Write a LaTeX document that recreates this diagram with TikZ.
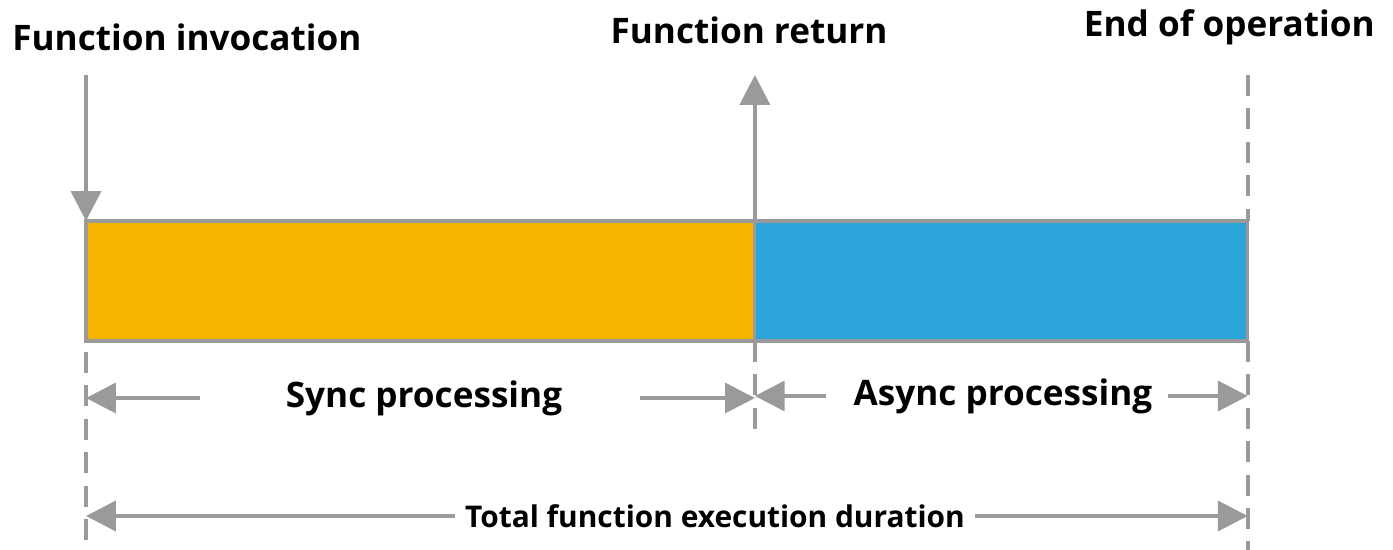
\documentclass[tikz,border=0pt]{standalone}
\usepackage{fontspec}
\setmainfont{Open Sans}
\usetikzlibrary{arrows.meta,calc}
\definecolor{syncorange}{HTML}{F5B400}
\definecolor{asyncblue}{HTML}{2CA6DA}
\definecolor{linegray}{HTML}{9A9A9A}
\tikzset{
  arr/.style={draw=linegray, line width=2.2pt, -{Triangle[length=17pt,width=17pt]}},
  guide/.style={draw=linegray, line width=2pt, dash pattern=on 12pt off 7pt},
  lbl/.style={font=\bfseries\fontsize{20}{24}\selectfont, inner sep=0pt},
  smalllbl/.style={font=\bfseries\fontsize{17}{20}\selectfont, inner sep=0pt},
  bar/.style={draw=linegray, line width=1.8pt, minimum height=2.4cm, inner sep=0pt, outer sep=0pt, anchor=north west},
}

\begin{document}
\begin{tikzpicture}[x=0.02cm,y=-0.02cm]
  \useasboundingbox (0,0) rectangle (1393,550);

  % the two phases
  \node[bar, fill=syncorange, minimum width=13.38cm] (sync) at (86,221) {};
  \node[bar, fill=asyncblue, minimum width=9.86cm] (async) at (sync.north east) {};

  % top labels
  \node[lbl, anchor=west] (invlbl) at (12,37) {Function invocation};
  \node[lbl] (retlbl) at (749,30) {Function return};
  \node[lbl, anchor=east] (endlbl) at (1375,27) {End of operation};

  \coordinate (invtop) at (86,75);
  \coordinate (rettop) at (755,75);
  \coordinate (endtop) at (1248,75);
  \draw[arr] (sync.north west |- invtop) -- (sync.north west);
  \draw[arr] (sync.north east) -- (sync.north east |- rettop);

  % guide lines
  \coordinate (baseL) at (86,550);
  \coordinate (baseM) at (755,430);
  \coordinate (baseR) at (1248,550);
  \draw[guide] (async.north east |- endtop) -- (async.north east);
  \draw[guide] ($(sync.south west)+(0,11)$) -- (sync.south west |- baseL);
  \draw[guide] (sync.south east) -- (sync.south east |- baseM);
  \draw[guide] (async.south east) -- (async.south east |- baseR);

  % phase spans
  \node[lbl] (synclbl) at (424,398) {Sync processing};
  \node[lbl] (asynclbl) at (1003,396) {Async processing};
  \node[smalllbl] (totallbl) at (715,516) {Total function execution duration};

  \draw[arr] ($(synclbl.west)+(-85,0)$) -- (synclbl -| sync.west);
  \draw[arr] ($(synclbl.east)+(77,0)$) -- (synclbl -| sync.east);
  \draw[arr] ($(asynclbl.west)+(-27,0)$) -- (asynclbl -| async.west);
  \draw[arr] ($(asynclbl.east)+(15,0)$) -- (asynclbl -| async.east);
  \draw[arr] ($(totallbl.west)+(-10,0)$) -- (totallbl -| sync.west);
  \draw[arr] ($(totallbl.east)+(10,0)$) -- (totallbl -| async.east);
\end{tikzpicture}
\end{document}
